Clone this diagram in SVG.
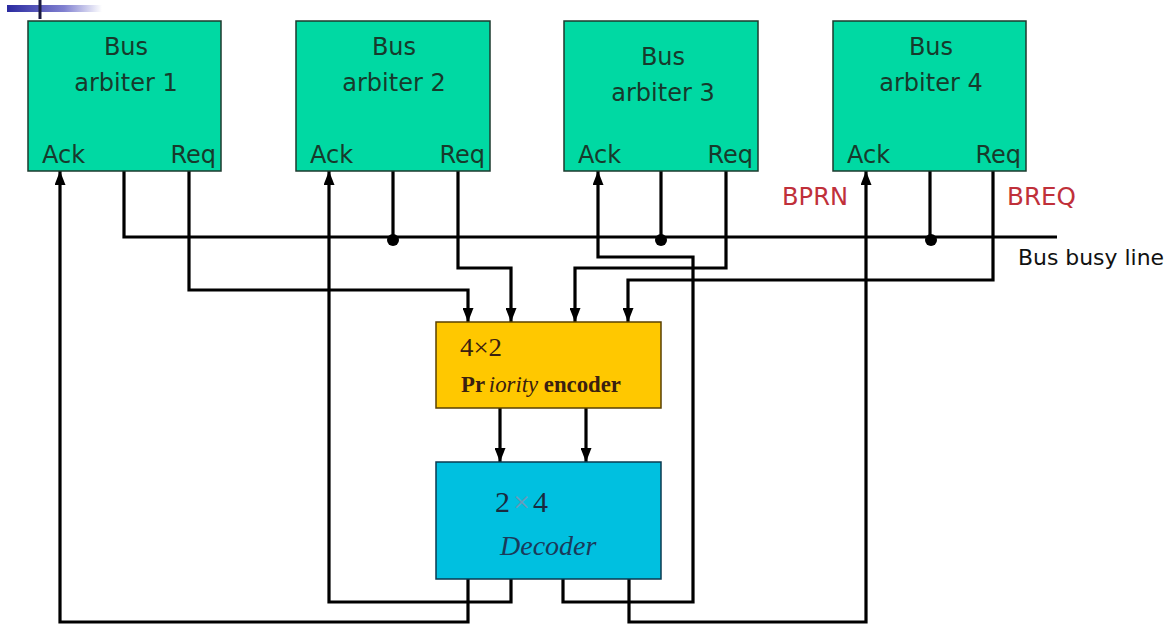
<svg xmlns="http://www.w3.org/2000/svg" width="1170" height="624" viewBox="0 0 1170 624">
<defs>
<linearGradient id="barGrad" x1="0" y1="0" x2="1" y2="0">
<stop offset="0" stop-color="#2a2aa0"/>
<stop offset="0.6" stop-color="#8080d0"/>
<stop offset="1" stop-color="#ffffff"/>
</linearGradient>
<marker id="arr" markerUnits="userSpaceOnUse" markerWidth="14" markerHeight="11" viewBox="0 0 14 11" refX="14" refY="5.5" orient="auto">
<path d="M0,0 L14,5.5 L0,11 z" fill="#000"/>
</marker>
</defs>
<style>
.arb{fill:#00d9a3;stroke:#1c3a2e;stroke-width:1.5}
.atxt{font-family:"DejaVu Sans",sans-serif;font-size:24px;fill:#173a2c}
.wire{fill:none;stroke:#000;stroke-width:3.2;stroke-linejoin:miter}
.arrw{fill:none;stroke:#000;stroke-width:3.2;marker-end:url(#arr)}
.red{font-family:"DejaVu Sans",sans-serif;font-size:25px;fill:#c0303a}
.serif{font-family:"Liberation Serif","Times New Roman",serif}
</style>
<rect x="0" y="0" width="1170" height="624" fill="#ffffff"/>
<rect x="7" y="5" width="95" height="7" fill="url(#barGrad)"/>
<line x1="40" y1="0" x2="40" y2="19" stroke="#1a1a40" stroke-width="3"/>

<g id="connectors">
<polyline class="wire" points="124,171 124,237 1057,237"/>
<line class="wire" x1="393" y1="171" x2="393" y2="237"/>
<line class="wire" x1="661" y1="171" x2="661" y2="237"/>
<line class="wire" x1="930" y1="171" x2="930" y2="237"/>
<circle cx="393" cy="240" r="6" fill="#000"/>
<circle cx="661" cy="240" r="6" fill="#000"/>
<circle cx="931" cy="240" r="6" fill="#000"/>
<polyline class="arrw" points="189,171 189,290 468,290 468,322"/>
<polyline class="arrw" points="458,171 458,268 511,268 511,322"/>
<polyline class="arrw" points="726,171 726,268 575,268 575,322"/>
<polyline class="arrw" points="993,171 993,280 628,280 628,322"/>
<line class="arrw" x1="500" y1="408" x2="500" y2="462"/>
<line class="arrw" x1="586" y1="408" x2="586" y2="462"/>
<polyline class="arrw" points="468,579 468,622 60,622 60,171"/>
<polyline class="arrw" points="511,579 511,602 329,602 329,171"/>
<polyline class="arrw" points="563,579 563,602 693,602 693,257 598,257 598,171"/>
<polyline class="arrw" points="629,579 629,622 866,622 866,171"/>
</g>

<g id="arbiter1">
<rect class="arb" x="28" y="21" width="193" height="150"/>
<text class="atxt" x="126" y="55" text-anchor="middle">Bus</text>
<text class="atxt" x="126" y="91" text-anchor="middle">arbiter 1</text>
<text class="atxt" x="42" y="163">Ack</text>
<text class="atxt" x="216" y="163" text-anchor="end">Req</text>
</g>
<g id="arbiter2">
<rect class="arb" x="296" y="21" width="194" height="150"/>
<text class="atxt" x="394" y="55" text-anchor="middle">Bus</text>
<text class="atxt" x="394" y="91" text-anchor="middle">arbiter 2</text>
<text class="atxt" x="310" y="163">Ack</text>
<text class="atxt" x="485" y="163" text-anchor="end">Req</text>
</g>
<g id="arbiter3">
<rect class="arb" x="564" y="21" width="194" height="150"/>
<text class="atxt" x="663" y="65" text-anchor="middle">Bus</text>
<text class="atxt" x="663" y="101" text-anchor="middle">arbiter 3</text>
<text class="atxt" x="578" y="163">Ack</text>
<text class="atxt" x="753" y="163" text-anchor="end">Req</text>
</g>
<g id="arbiter4">
<rect class="arb" x="833" y="21" width="193" height="150"/>
<text class="atxt" x="931" y="55" text-anchor="middle">Bus</text>
<text class="atxt" x="931" y="91" text-anchor="middle">arbiter 4</text>
<text class="atxt" x="847" y="163">Ack</text>
<text class="atxt" x="1021" y="163" text-anchor="end">Req</text>
</g>

<g id="labels">
<text class="red" x="782" y="205" textLength="66" lengthAdjust="spacingAndGlyphs">BPRN</text>
<text class="red" x="1007" y="205" textLength="69" lengthAdjust="spacingAndGlyphs">BREQ</text>
<text x="1018" y="265" font-family="DejaVu Sans, sans-serif" font-size="22" fill="#111" textLength="146" lengthAdjust="spacingAndGlyphs">Bus busy line</text>
</g>

<g id="encoder">
<rect x="436" y="322" width="225" height="86" fill="#ffc800" stroke="#5a4000" stroke-width="1.5"/>
<text class="serif" x="460" y="356" font-size="25" fill="#3a2010" textLength="42" lengthAdjust="spacingAndGlyphs">4×2</text>
<text class="serif" x="461" y="392" font-size="24" fill="#3a2010" textLength="160" lengthAdjust="spacingAndGlyphs"><tspan font-weight="bold">Pr</tspan><tspan dx="4" font-style="italic">iority</tspan><tspan font-weight="bold"> encoder</tspan></text>
</g>

<g id="decoder">
<rect x="436" y="462" width="225" height="117" fill="#00c0e0" stroke="#0a3a50" stroke-width="1.5"/>
<text class="serif" x="495" y="512" font-size="30" fill="#1a2a40">2<tspan dx="3" fill="#6a9ab8">×</tspan><tspan dx="3">4</tspan></text>
<text class="serif" x="500" y="555" font-size="28" font-style="italic" fill="#1a3a5a">Decoder</text>
</g>
</svg>
